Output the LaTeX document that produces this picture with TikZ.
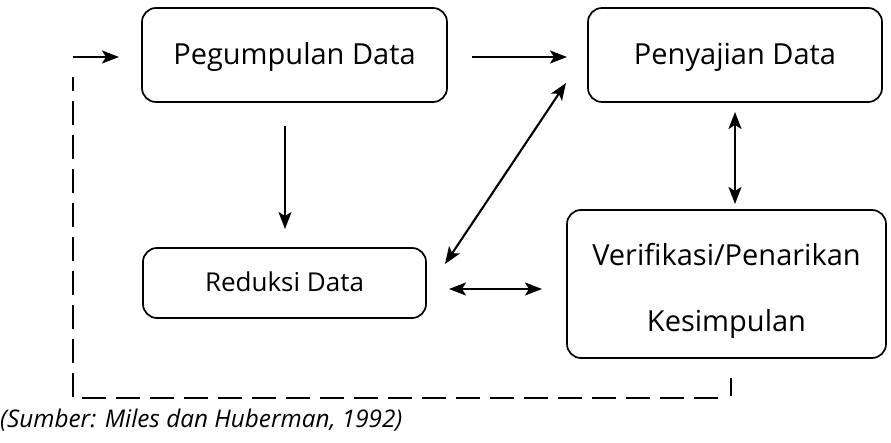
\documentclass[tikz,border=0pt]{standalone}
\usepackage{fontspec}
\setmainfont{Open Sans}
\usetikzlibrary{arrows.meta}
\begin{document}
\begin{tikzpicture}[x=1pt,y=-1pt,
  box/.style={draw,line width=1.7pt,rounded corners=14pt,inner sep=0pt,align=center},
  arr/.style={line width=2.1pt,-{Stealth[length=17pt,width=13pt,inset=4pt]}},
  darr/.style={line width=2.1pt,{Stealth[length=17pt,width=13pt,inset=4pt]}-{Stealth[length=17pt,width=13pt,inset=4pt]}},
  dsh/.style={line width=2.1pt,dash pattern=on 24pt off 10pt}]
\useasboundingbox (0,0) rectangle (891,443);
\node[box,minimum width=305pt,minimum height=94pt,text height=21pt,text depth=1pt,font=\fontsize{29}{34}\selectfont] (peg) at (294.5,55) {Pegumpulan Data};
\node[box,minimum width=294pt,minimum height=94pt,text height=21pt,text depth=1pt,font=\fontsize{29}{34}\selectfont] (pen) at (735,55) {Penyajian Data};
\node[box,minimum width=283pt,minimum height=70pt,text height=19pt,text depth=1pt,font=\fontsize{26}{30}\selectfont] (red) at (284.5,283) {Reduksi Data};
\node[box,minimum width=319pt,minimum height=148pt,
  label={[align=center,font=\fontsize{29}{66}\selectfont,yshift=-7pt]center:Verifikasi/Penarikan\\Kesimpulan}] (ver) at (726.5,284) {};
\node[anchor=west,inner sep=0pt,font=\fontsize{24.3}{28}\selectfont\itshape] (src) at (0,420) {(Sumber: Miles dan Huberman, 1992)};
\coordinate (a1) at (73,57);
\coordinate (a2) at (119,57);
\coordinate (b1) at (472,57);
\coordinate (b2) at (567,57);
\coordinate (c1) at (285,126);
\coordinate (c2) at (285,229);
\coordinate (d1) at (445,264);
\coordinate (d2) at (566,83);
\coordinate (e1) at (735,112);
\coordinate (e2) at (735,204);
\coordinate (f1) at (449,289);
\coordinate (f2) at (542,289);
\coordinate (g1) at (731,378);
\coordinate (g2) at (731,396);
\coordinate (g3) at (73,398);
\coordinate (g4) at (73,77);
\draw[arr] (a1) -- (a2);
\draw[arr] (b1) -- (b2);
\draw[arr] (c1) -- (c2);
\draw[darr] (d1) -- (d2);
\draw[darr] (e1) -- (e2);
\draw[darr] (f1) -- (f2);
\draw[line width=2.1pt] (g1) -- (g2);
\draw[dsh] (718,398) -- (g3) -- (g4);
\end{tikzpicture}
\end{document}
